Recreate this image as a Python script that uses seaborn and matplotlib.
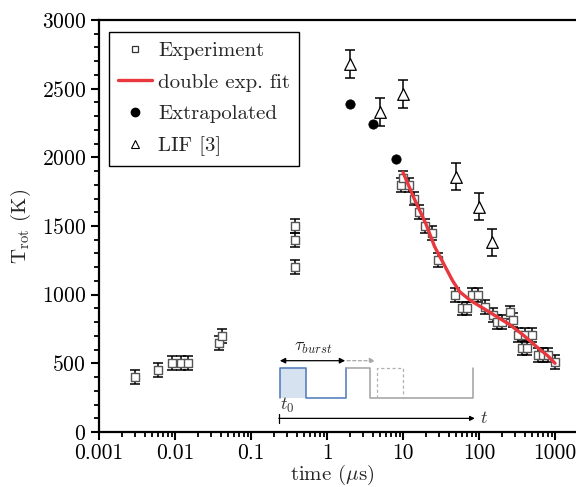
import matplotlib
matplotlib.use("Agg")
import matplotlib.pyplot as plt
import numpy as np
import pandas as pd
import seaborn as sns
from matplotlib.lines import Line2D
from matplotlib.ticker import FixedLocator, MultipleLocator, NullFormatter, FixedFormatter, LogLocator

# ---- data -------------------------------------------------------------
exp_time = [0.003, 0.006, 0.009, 0.012, 0.015, 0.038, 0.042,
            0.38, 0.38, 0.38,
            9.3, 10.1, 12, 14, 16, 19.5, 24, 29,
            48, 59, 69, 80, 98, 120, 154, 171, 199,
            256, 283, 330, 403, 493, 365, 425, 603, 702, 817, 1000]
exp_temp = [400, 450, 500, 500, 500, 650, 700,
            1500, 1400, 1200,
            1800, 1850, 1800, 1700, 1600, 1500, 1450, 1250,
            1000, 900, 900, 1000, 1000, 910, 850, 800, 800,
            870, 815, 705, 705, 705, 610, 610, 560, 560, 560, 510]
exp_err = 50

fit_time = [10, 14, 20, 26, 35, 45, 56, 76, 114, 171, 256, 383, 574, 800, 1000]
fit_temp = [1890, 1700, 1515, 1350, 1215, 1100, 1020, 960, 900, 840, 780, 705, 620, 555, 500]

extrap_time = [2, 4, 8]
extrap_temp = [2390, 2240, 1990]

lif_time = [2, 5, 10, 50, 100, 150]
lif_temp = [2680, 2330, 2460, 1860, 1640, 1380]
lif_err = 100

xtick_values = [0.001, 0.01, 0.1, 1, 10, 100, 1000]
xtick_labels = ["0.001", "0.01", "0.1", "1", "10", "100", "1000"]
ytick_values = [0, 500, 1000, 1500, 2000, 2500, 3000]

exp_df = pd.DataFrame({"t": exp_time, "T": exp_temp})
fit_df = pd.DataFrame({"t": fit_time, "T": fit_temp})
ext_df = pd.DataFrame({"t": extrap_time, "T": extrap_temp})
lif_df = pd.DataFrame({"t": lif_time, "T": lif_temp})

# ---- style ------------------------------------------------------------
sns.set_theme(style="ticks")
plt.rcParams.update({
    "font.family": ["cmr10", "DejaVu Serif"],
    "mathtext.fontset": "cm",
    "axes.formatter.use_mathtext": True,
    "axes.linewidth": 1.6,
    "axes.edgecolor": "black",
    "xtick.color": "black",
    "ytick.color": "black",
    "xtick.major.width": 1.5,
    "ytick.major.width": 1.5,
    "xtick.minor.width": 1.3,
    "ytick.minor.width": 1.3,
    "xtick.major.size": 6,
    "ytick.major.size": 6,
    "xtick.minor.size": 3.5,
    "ytick.minor.size": 3.5,
    "xtick.direction": "out",
    "ytick.direction": "out",
})

FS = 15.5
LFS = 15

fig = plt.figure(figsize=(5.76, 4.87), dpi=100)
ax = fig.add_axes([0.172, 0.113, 0.828, 0.846])

# error bars
ax.errorbar(exp_df["t"], exp_df["T"], yerr=exp_err, fmt="none", ecolor="black",
            elinewidth=1.1, capsize=3.4, capthick=1.1, zorder=3)
ax.errorbar(lif_df["t"], lif_df["T"], yerr=lif_err, fmt="none", ecolor="black",
            elinewidth=1.1, capsize=3.6, capthick=1.1, zorder=3)

# markers
sns.scatterplot(data=exp_df, x="t", y="T", marker="s", s=30, facecolor="white",
                edgecolor="#555555", linewidth=1.0, ax=ax, zorder=4)
sns.scatterplot(data=lif_df, x="t", y="T", marker="^", s=70, facecolor="white",
                edgecolor="black", linewidth=0.9, ax=ax, zorder=4)
sns.scatterplot(data=ext_df, x="t", y="T", marker="o", s=45, color="black",
                edgecolor="black", ax=ax, zorder=4)

# double exponential fit
sns.lineplot(data=fit_df, x="t", y="T", color="#e8383d", linewidth=2.4, ax=ax,
             zorder=5, estimator=None, sort=True)

# axes
ax.set_xscale("log")
ax.set_xlim(0.001, 1888)
ax.set_ylim(0, 3000)
ax.xaxis.set_major_locator(FixedLocator(xtick_values))
ax.xaxis.set_major_formatter(FixedFormatter(xtick_labels))
ax.xaxis.set_minor_locator(LogLocator(base=10, subs=np.arange(2, 10)))
ax.xaxis.set_minor_formatter(NullFormatter())
ax.yaxis.set_major_locator(FixedLocator(ytick_values))
ax.yaxis.set_minor_locator(MultipleLocator(100))
ax.tick_params(axis="y", which="major", labelsize=FS, pad=3.5)
ax.tick_params(axis="x", which="major", labelsize=FS, pad=2.5)
ax.spines["right"].set_visible(False)
ax.tick_params(top=False, right=False)

ax.set_xlabel(r"time ($\mu$s)", fontsize=LFS)
ax.set_ylabel(r"T$_{\rm rot}$ (K)", fontsize=LFS)
ax.xaxis.set_label_coords(0.489, -0.074)
ax.yaxis.set_label_coords(-0.138, 0.5)

# legend
handles = [
    Line2D([], [], linestyle="none", marker="s", markersize=5, markerfacecolor="white",
           markeredgecolor="#333333", markeredgewidth=0.9),
    Line2D([], [], color="#e8383d", linewidth=2.4),
    Line2D([], [], linestyle="none", marker="o", markersize=6, color="black"),
    Line2D([], [], linestyle="none", marker="^", markersize=6, markerfacecolor="white",
           markeredgecolor="black", markeredgewidth=0.8),
]
labels = ["Experiment", "double exp. fit", "Extrapolated", "LIF [3]"]
leg = ax.legend(handles, labels, loc="upper left", bbox_to_anchor=(0.021, 0.971),
                fontsize=LFS, frameon=True, fancybox=False, edgecolor="black",
                framealpha=1, borderpad=0.45, labelspacing=0.63, handlelength=1.6,
                handletextpad=0.3, borderaxespad=0)
leg.get_frame().set_linewidth(1.0)

# burst timing schematic (axes-fraction coordinates)
tr = ax.transAxes
top, bot = 0.156, 0.082
ax.fill([0.3795, 0.434, 0.434, 0.3795], [bot, bot, top, top], color="#d6e2f0",
        transform=tr, zorder=2, lw=0)
ax.plot([0.3795, 0.3795, 0.434, 0.434, 0.517, 0.517], [bot, top, top, bot, bot, top],
        color="#4a78b8", lw=1.1, transform=tr, zorder=2)
ax.plot([0.517, 0.568, 0.568, 0.784, 0.784], [top, top, bot, bot, top],
        color="#a0a0a0", lw=1.1, transform=tr, zorder=2)
ax.plot([0.583, 0.583, 0.637, 0.637], [bot, top, top, bot],
        color="#b0b0b0", lw=0.9, ls=(0, (2.5, 2)), transform=tr, zorder=2)
ax.annotate("", xy=(0.379, 0.173), xytext=(0.516, 0.173), xycoords=tr, textcoords=tr,
            arrowprops=dict(arrowstyle="<|-|>", color="black", lw=0.9,
                            mutation_scale=8, shrinkA=0, shrinkB=0))
ax.annotate("", xy=(0.579, 0.173), xytext=(0.520, 0.173), xycoords=tr, textcoords=tr,
            arrowprops=dict(arrowstyle="-|>", color="#a8a8a8", lw=0.9, ls=(0, (2.5, 2)),
                            mutation_scale=8, shrinkA=0, shrinkB=0))
ax.text(0.449, 0.184, r"$\tau_{burst}$", transform=tr, ha="center", va="bottom",
        fontsize=13, color="#222222")
ax.annotate("", xy=(0.788, 0.033), xytext=(0.377, 0.033), xycoords=tr, textcoords=tr,
            arrowprops=dict(arrowstyle="-|>", color="black", lw=0.9,
                            mutation_scale=7, shrinkA=0, shrinkB=0))
ax.plot([0.377, 0.377], [0.022, 0.044], color="black", lw=0.9, transform=tr)
ax.text(0.38, 0.041, r"$t_{\mathit{0}}$", transform=tr, ha="left", va="bottom",
        fontsize=13, color="#333333")
ax.text(0.798, 0.033, r"$t$", transform=tr, ha="left", va="center",
        fontsize=13, color="#333333")

fig.savefig("out.png", dpi=100)
